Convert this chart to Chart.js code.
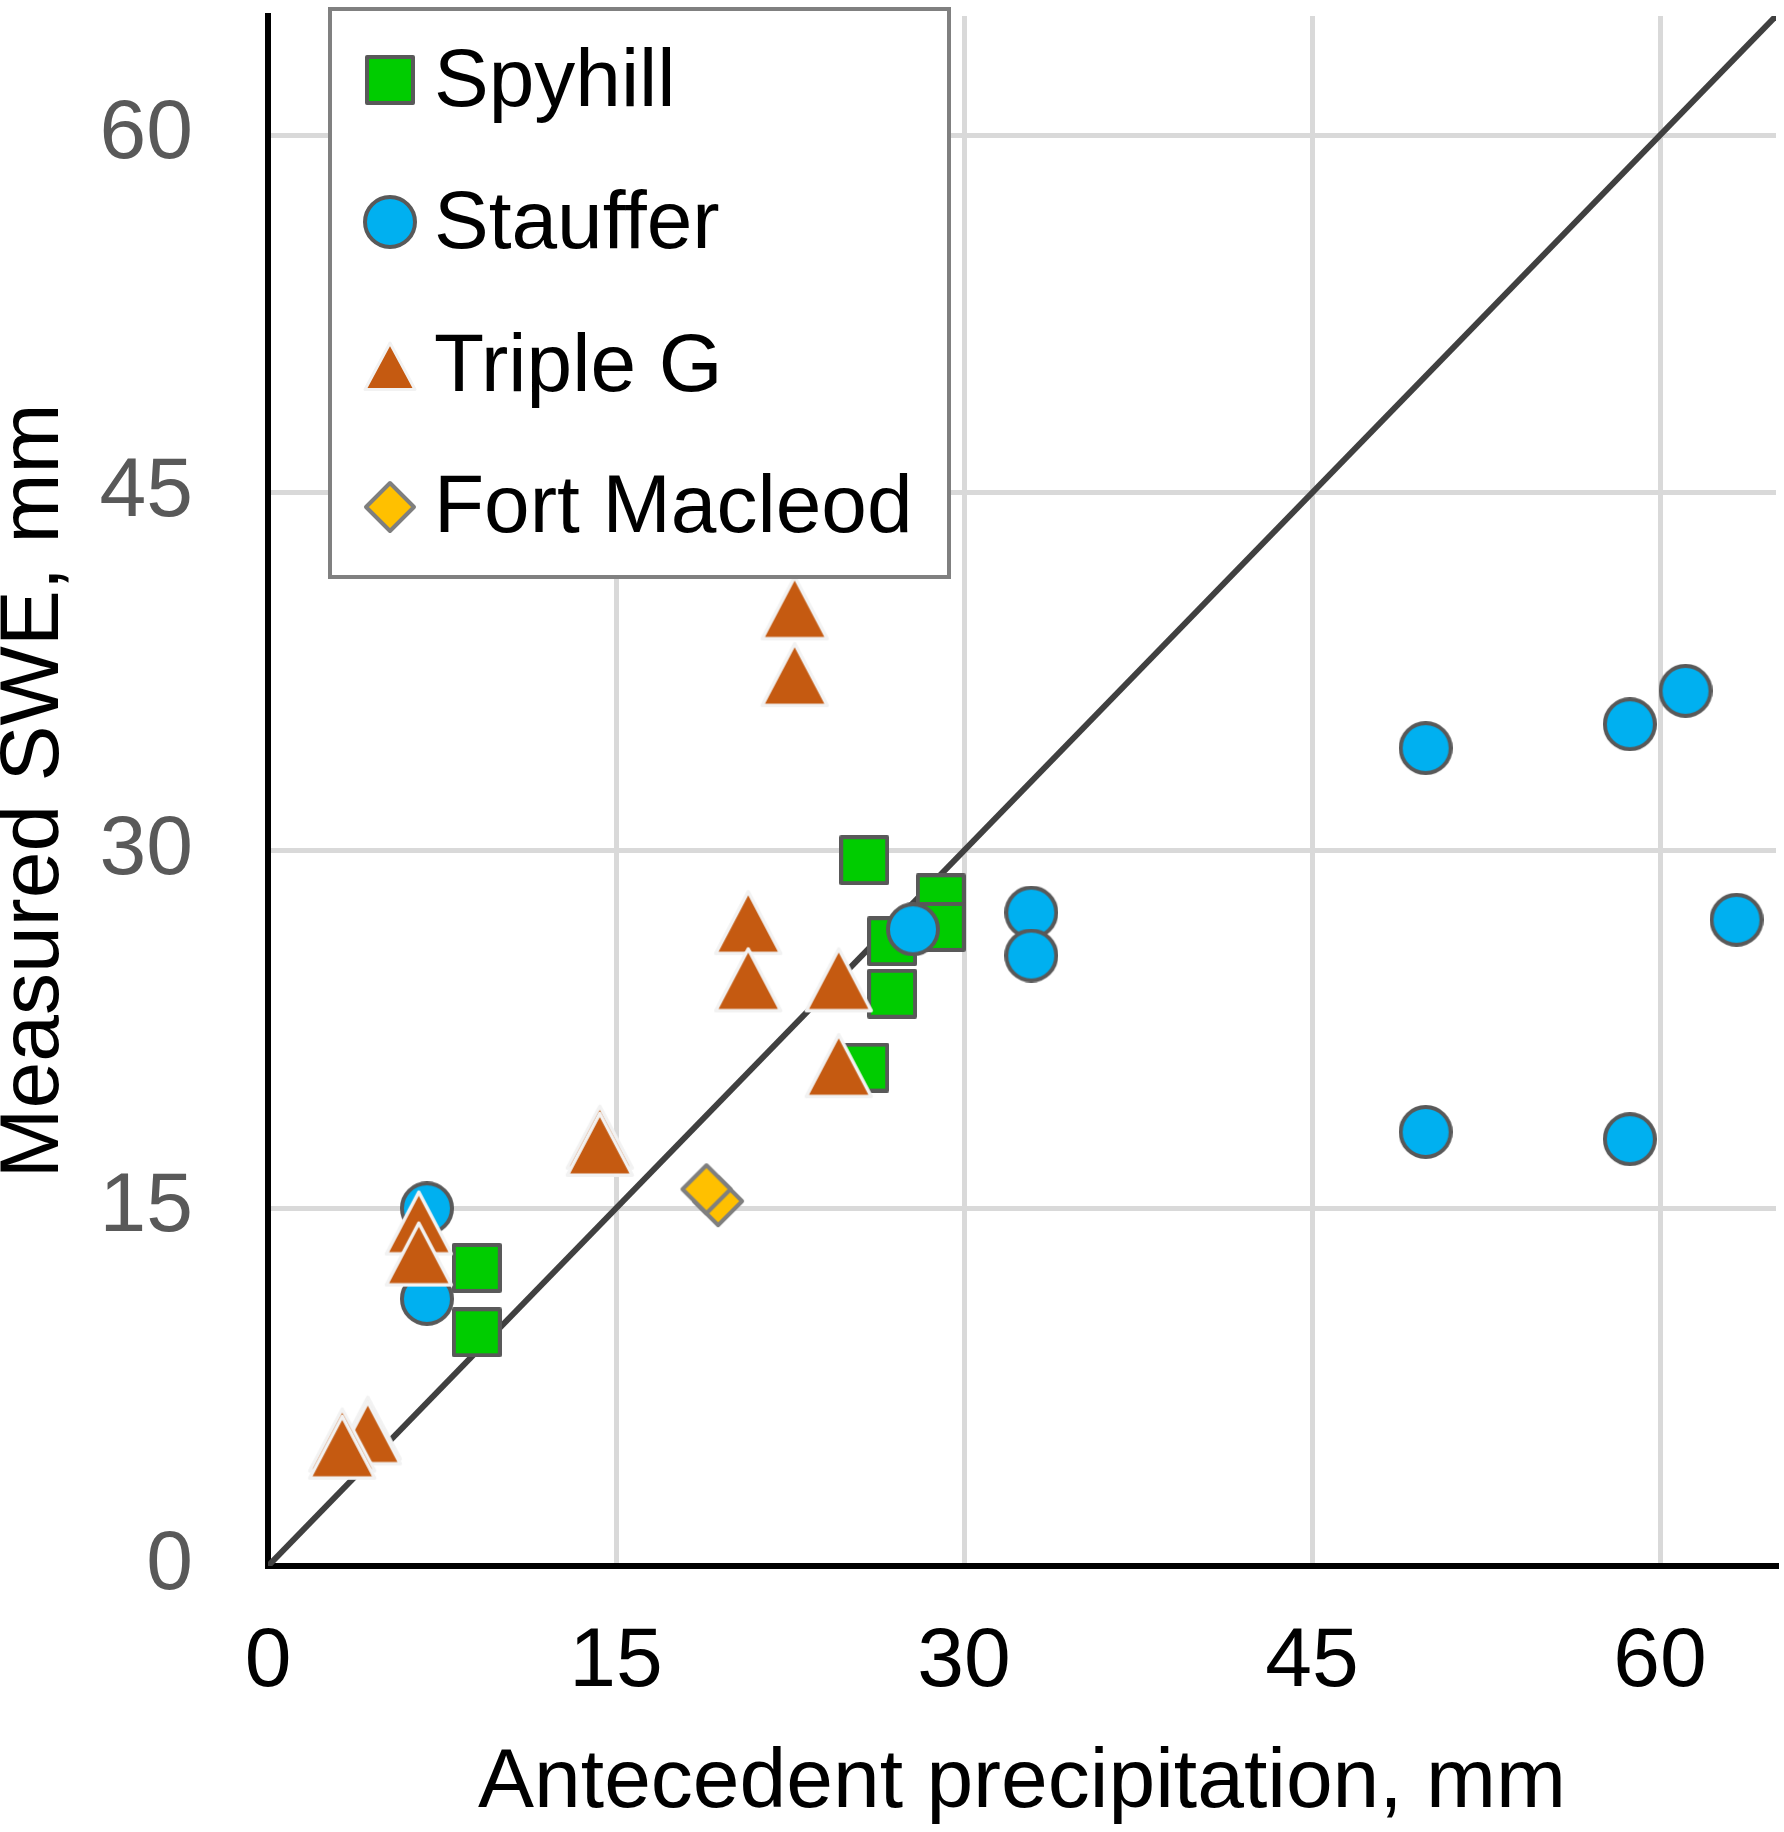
<!DOCTYPE html>
<html>
<head>
<meta charset="utf-8">
<title>Measured SWE vs antecedent precipitation</title>
<script src="https://cdn.jsdelivr.net/npm/chart.js@4.4.1/dist/chart.umd.min.js"></script>
<style>
  html, body { margin: 0; padding: 0; background: #fff; }
  #wrap { width: 1784px; height: 1832px; }
</style>
</head>
<body>
<div id="wrap"><canvas id="swe" width="1784" height="1832"></canvas></div>
<script>
// --- DATA ---
const seriesNames = ['Spyhill', 'Stauffer', 'Triple G', 'Fort Macleod'];

const spyhillX = [25.7, 29.0, 29.0, 26.9, 26.9, 25.7, 9.0, 9.0];
const spyhillY = [29.6, 28.0, 26.8, 26.2, 24.0, 20.9, 12.5, 9.8];

const staufferX = [6.85, 6.85, 27.8, 32.9, 32.9, 49.9, 49.9, 58.7, 58.7, 61.1, 63.3];
const staufferY = [15.0, 11.2, 26.7, 27.4, 25.6, 34.3, 18.2, 35.3, 17.9, 36.7, 27.1];

const tripleGX = [22.7, 22.7, 20.7, 20.7, 24.6, 24.6, 14.3, 14.3, 6.5, 6.5, 4.3, 4.3, 3.2, 3.2];
const tripleGY = [40.2, 37.4, 27.0, 24.6, 24.6, 21.0, 18.0, 17.7, 14.4, 13.1, 5.8, 5.6, 5.3, 5.0];

const fortX = [19.4, 18.9];
const fortY = [15.3, 15.8];

// 1:1 line
const oneToOneX = [0, 65];
const oneToOneY = [0, 65];

const xTicks = [0, 15, 30, 45, 60];
const yTicks = [0, 15, 30, 45, 60];
const axisMin = 0, axisMax = 65;

const FONT = '"Liberation Sans", Arial, sans-serif';

// --- MARKERS ---
function makeCanvas(w, h) {
  const c = document.createElement('canvas');
  c.width = w; c.height = h;
  return c;
}

function squareMarker(size, fill, stroke, lw) {
  const c = makeCanvas(size, size), g = c.getContext('2d');
  g.fillStyle = fill; g.strokeStyle = stroke; g.lineWidth = lw; g.lineJoin = 'round';
  g.beginPath(); g.rect(lw / 2, lw / 2, size - lw, size - lw);
  g.fill(); g.stroke();
  return c;
}

function circleMarker(size, fill, stroke, lw) {
  const c = makeCanvas(size, size), g = c.getContext('2d');
  g.fillStyle = fill; g.strokeStyle = stroke; g.lineWidth = lw;
  g.beginPath(); g.arc(size / 2, size / 2, (size - lw) / 2, 0, Math.PI * 2);
  g.fill(); g.stroke();
  return c;
}

function triangleMarker(w, h, fill, stroke, lw) {
  const c = makeCanvas(w, h), g = c.getContext('2d');
  g.fillStyle = fill; g.strokeStyle = stroke; g.lineWidth = lw; g.lineJoin = 'round';
  g.beginPath();
  g.moveTo(w / 2, lw);
  g.lineTo(w - lw, h - lw / 2 - 1);
  g.lineTo(lw, h - lw / 2 - 1);
  g.closePath();
  g.fill(); g.stroke();
  return c;
}

function diamondMarker(size, fill, stroke, lw) {
  const c = makeCanvas(size, size), g = c.getContext('2d');
  const m = lw * 0.75, s = size;
  g.fillStyle = fill; g.strokeStyle = stroke; g.lineWidth = lw; g.lineJoin = 'round';
  g.beginPath();
  g.moveTo(s / 2, m); g.lineTo(s - m, s / 2); g.lineTo(s / 2, s - m); g.lineTo(m, s / 2);
  g.closePath();
  g.fill(); g.stroke();
  return c;
}

const mkSquare = squareMarker(50, '#00CC00', '#595959', 4);
const mkCircle = circleMarker(54, '#00B0F0', '#595959', 4);
const mkTriangle = triangleMarker(72, 68, '#C55A11', '#F2F2F2', 3.5);
const mkDiamond = diamondMarker(54, '#FFC000', '#7F7F7F', 4);
const mkTriangleSmall = triangleMarker(56, 52, '#C55A11', '#F2F2F2', 3);

const legendMarkers = [mkSquare, mkCircle, mkTriangleSmall, mkDiamond];

function pts(xs, ys) {
  return xs.map((x, i) => ({ x: x, y: ys[i] }));
}

// no extra label padding around the plot area, the layout padding does it
function noPad(s) {
  s.paddingTop = 0; s.paddingBottom = 0; s.paddingLeft = 0; s.paddingRight = 0;
}

// --- LEGEND INSIDE THE PLOT ---
const boxLegend = {
  id: 'boxLegend',
  afterDraw(chart) {
    const ctx = chart.ctx;
    ctx.save();
    ctx.fillStyle = '#ffffff';
    ctx.fillRect(330, 9, 619, 568);
    ctx.strokeStyle = '#808080';
    ctx.lineWidth = 4;
    ctx.strokeRect(330, 9, 619, 568);

    const markerY = [80, 222, 366, 507];
    const baseY = [106, 248, 391, 532];
    ctx.font = '82px ' + FONT;
    ctx.fillStyle = '#000';
    ctx.textBaseline = 'alphabetic';
    ctx.textAlign = 'left';
    seriesNames.forEach((name, i) => {
      const m = legendMarkers[i];
      ctx.drawImage(m, 390 - m.width / 2, markerY[i] - m.height / 2);
      ctx.fillText(name, 434, baseY[i]);
    });
    ctx.restore();
  }
};

// --- CHART ---
const ctx = document.getElementById('swe').getContext('2d');
const chart = new Chart(ctx, {
  type: 'scatter',
  data: {
    datasets: [
      { label: seriesNames[3], data: pts(fortX, fortY), pointStyle: mkDiamond, pointRadius: 26, order: 1 },
      { label: seriesNames[2], data: pts(tripleGX, tripleGY), pointStyle: mkTriangle, pointRadius: 30, order: 2 },
      { label: seriesNames[1], data: pts(staufferX, staufferY), pointStyle: mkCircle, pointRadius: 26, order: 3 },
      { label: seriesNames[0], data: pts(spyhillX, spyhillY), pointStyle: mkSquare, pointRadius: 25, order: 4 },
      {
        label: '1:1', data: pts(oneToOneX, oneToOneY), showLine: true,
        borderColor: '#404040', borderWidth: 6, pointRadius: 0, fill: false, order: 5
      }
    ]
  },
  options: {
    responsive: false,
    devicePixelRatio: 1,
    animation: false,
    layout: { autoPadding: false, padding: { top: 16, right: 8, left: 0, bottom: 0 } },
    plugins: { legend: { display: false }, tooltip: { enabled: false } },
    scales: {
      x: {
        type: 'linear', min: axisMin, max: axisMax,
        afterBuildTicks: s => { s.ticks = xTicks.map(v => ({ value: v })); },
        afterFit: s => { s.height = 266; noPad(s); },
        grid: { color: '#D9D9D9', lineWidth: 5, drawTicks: false },
        border: { color: '#000', width: 6 },
        ticks: { color: '#000', padding: 46, maxRotation: 0, autoSkip: false, font: { family: FONT, size: 84 } },
        title: {
          display: true, text: 'Antecedent precipitation, mm', color: '#000',
          font: { family: FONT, size: 84 }, padding: { top: 0, bottom: -2 }
        }
      },
      y: {
        type: 'linear', min: axisMin, max: axisMax,
        afterBuildTicks: s => { s.ticks = yTicks.map(v => ({ value: v })); },
        afterFit: s => { s.width = 268; noPad(s); },
        grid: { color: '#D9D9D9', lineWidth: 5, drawTicks: false },
        border: { color: '#000', width: 6 },
        ticks: { color: '#595959', padding: 75, autoSkip: false, font: { family: FONT, size: 84 } },
        title: {
          display: true, text: 'Measured SWE, mm', color: '#000',
          font: { family: FONT, size: 84 }, padding: { top: -16, bottom: 0 }
        }
      }
    }
  },
  plugins: [boxLegend]
});
</script>
</body>
</html>
